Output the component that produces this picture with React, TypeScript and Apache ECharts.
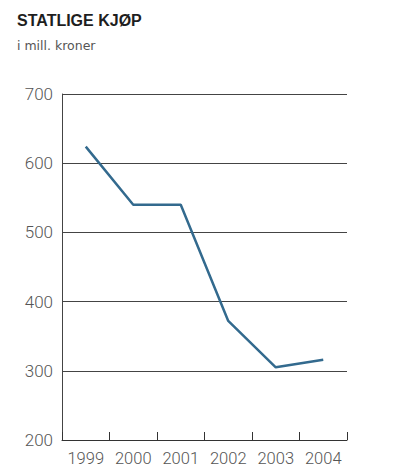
import React, { useEffect, useRef } from "react";
import * as echarts from "echarts";

const years = ["1999", "2000", "2001", "2002", "2003", "2004"];
const purchases = [624, 540, 540, 372, 305, 316];
const yTicks = { min: 200, max: 700, interval: 100 };

export default function App() {
  const ref = useRef<HTMLDivElement>(null);
  useEffect(() => {
    if (!ref.current) return;
    const chart = echarts.init(ref.current, null, { renderer: "svg" });
    chart.setOption({
      animation: false,
      backgroundColor: "#ffffff",
      title: {
        text: "STATLIGE KJØP",
        subtext: "i mill. kroner",
        left: 12,
        top: 6,
        itemGap: 9,
        textStyle: { fontFamily: "Liberation Sans", fontSize: 16, lineHeight: 18, fontWeight: "bold", color: "#1e1e1e" },
        subtextStyle: { fontFamily: "DejaVu Sans", fontSize: 12.5, lineHeight: 15, color: "#555" },
      },
      grid: { left: 62, right: 57, top: 94, bottom: 29 },
      xAxis: {
        type: "category",
        data: years,
        boundaryGap: true,
        axisLine: { lineStyle: { color: "#333", width: 1 } },
        axisTick: { show: true, inside: true, length: 8, lineStyle: { color: "#333" } },
        axisLabel: {
          interval: 0,
          hideOverlap: false,
          fontFamily: "Roboto",
          fontSize: 16.5,
          fontWeight: 300,
          color: "#555",
          margin: 10,
        },
      },
      yAxis: {
        type: "value",
        min: yTicks.min,
        max: yTicks.max,
        interval: yTicks.interval,
        axisLine: { show: true, lineStyle: { color: "#444", width: 1 } },
        axisTick: { show: false },
        axisLabel: { fontFamily: "Roboto", fontSize: 17, fontWeight: 300, color: "#555", margin: 9 },
        splitLine: { show: true, lineStyle: { color: "#444", width: 1 } },
      },
      series: [
        {
          type: "line",
          data: purchases,
          symbol: "none",
          lineStyle: { color: "#336a8e", width: 2.5 },
        },
      ],
    });
    return () => chart.dispose();
  }, []);
  return <div ref={ref} style={{ width: 404, height: 469, position: "absolute", left: 0, top: 0 }} />;
}
